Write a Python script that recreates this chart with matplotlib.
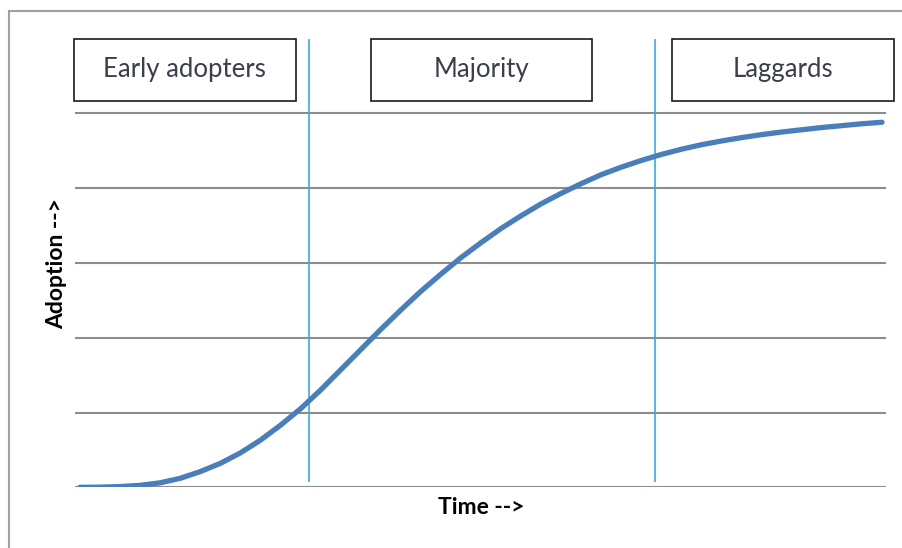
import matplotlib
matplotlib.use("Agg")
import matplotlib.pyplot as plt
from matplotlib.patches import Rectangle

# Data
time = [0.0, 0.25, 0.5, 0.75, 1.0, 1.25, 1.5, 1.75, 2.0, 2.25, 2.5, 2.75, 3.0, 3.25, 3.5, 3.75,
        4.0, 4.25, 4.5, 4.75, 5.0, 5.25, 5.5, 5.75, 6.0, 6.25, 6.5, 6.75, 7.0, 7.25, 7.5, 7.75,
        8.0, 8.25, 8.5, 8.75, 9.0, 9.25, 9.5, 9.75, 10.0]
adoption = [0.0, 0.002, 0.01, 0.026, 0.06, 0.12, 0.21, 0.32, 0.46, 0.63, 0.83, 1.05, 1.30, 1.57,
            1.84, 2.11, 2.37, 2.62, 2.85, 3.07, 3.27, 3.46, 3.63, 3.79, 3.93, 4.06, 4.18, 4.28,
            4.37, 4.45, 4.52, 4.58, 4.63, 4.675, 4.715, 4.75, 4.78, 4.81, 4.835, 4.86, 4.88]
phase_labels = ["Early adopters", "Majority", "Laggards"]
phase_box_x = [(-0.075, 2.69), (3.63, 6.38), (7.38, 10.15)]
phase_dividers = [2.855, 7.17]
grid_levels = [0, 1, 2, 3, 4, 5]

W, H = 903, 548
fig = plt.figure(figsize=(W / 100, H / 100), dpi=100)
plt.rcParams['font.family'] = ['Lato', 'DejaVu Sans']

left_px, right_px = 75, 886
y0_px, unit_px = 487.3, 74.8
top_px = y0_px - 6 * unit_px
ax = fig.add_axes([left_px / W, (H - y0_px) / H, (right_px - left_px) / W, (y0_px - top_px) / H])
ax.set_xlim(-0.0623, 10.05)
ax.set_ylim(0, 6)
for s in ax.spines.values():
    s.set_visible(False)
ax.set_xticks([])
ax.set_yticks([])

for g in grid_levels:
    ax.axhline(g, color='#8c8c8c', lw=1.5, zorder=1)

for d in phase_dividers:
    ax.plot([d, d], [0.07, 6.0], color='#3aaad6', lw=1.2, zorder=2, solid_capstyle='butt')

ax.plot(time, adoption, color='#4a7ebb', lw=3.8, zorder=3, solid_capstyle='round',
        solid_joinstyle='round')

for lab, (x1, x2) in zip(phase_labels, phase_box_x):
    r = Rectangle((x1, 5.16), x2 - x1, 6.0 - 5.16, facecolor='white', edgecolor='#1a1a1a',
                  lw=1.2, zorder=4, clip_on=False)
    ax.add_patch(r)
    ax.text((x1 + x2) / 2, 5.58, lab, ha='center', va='center', fontsize=18.5,
            color='#3a3f4b', zorder=5)

fig.text(57 / W, 1 - 264 / H, "Adoption -->", rotation=90, ha='center', va='center',
         fontsize=16.5, fontweight='bold', color='black')
fig.text(481 / W, 1 - 508 / H, "Time -->", ha='center', va='center',
         fontsize=16.5, fontweight='bold', color='black')

border = Rectangle((9 / W, -0.05), 1.2, (H - 11) / H + 0.05, transform=fig.transFigure,
                   facecolor='none', edgecolor='#a0a0a0', lw=1.5)
fig.add_artist(border)

fig.savefig("out.png", dpi=100)
